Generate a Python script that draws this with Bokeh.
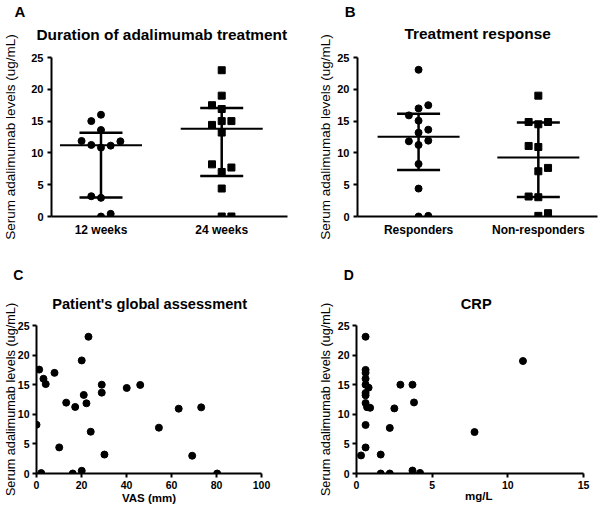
import numpy as np
from bokeh.plotting import figure
from bokeh.layouts import column, row
from bokeh.models import Range1d, FixedTicker, Title
from bokeh.embed import file_html
from bokeh.resources import INLINE

FONT = "Liberation Sans"

# ---------------- data ----------------
# Panel A: duration of adalimumab treatment (ug/mL)
weeks_labels = ["12 weeks", "24 weeks"]
weeks12 = [16.0, 15.0, 0.0, 0.42, 13.6, 10.83, 11.25, 11.14, 11.88, 11.82, 2.93, 3.19]
weeks24 = [23.0, 19.0, 16.9, 17.5, 15.0, 15.0, 13.2, 14.4, 7.0, 7.7, 8.2, 4.4, 0.0, 0.0]

# Panel B: treatment response (ug/mL)
response_labels = ["Responders", "Non-responders"]
responders = [11.25, 11.82, 23.07, 17.0, 17.5, 15.06, 15.9, 13.18, 13.65, 11.93, 0.0, 0.1, 8.26, 4.39]
non_responders = [19.0, 14.5, 14.86, 14.86, 10.93, 11.09, 7.11, 7.64, 3.03, 3.14, 0.1, 0.52]

# Panel C: patient's global assessment, VAS (mm) vs level
vas_mm = [23.1, 20.1, 1.2, 8.0, 3.1, 4.1, 29.0, 40.1, 46.1, 29.0, 21.0, 13.2, 17.2, 22.2,
          63.2, 73.2, 54.4, 69.2, 80.3, 0.0, 24.1, 10.1, 30.2, 2.1, 16.1, 20.1]
level_c = [23.1, 19.1, 17.55, 17.0, 16.0, 15.1, 15.0, 14.45, 14.96, 13.66, 13.27, 11.97, 11.24, 11.86,
           10.95, 11.17, 7.74, 3.0, 0.0, 8.24, 7.06, 4.41, 3.2, 0.07, 0.0, 0.46]

# Panel D: CRP (mg/L) vs level
crp_mgl = [0.6, 11.0, 0.6, 0.6, 0.6, 0.6, 0.8, 2.9, 3.7, 0.6, 0.6, 3.8, 0.6, 0.7,
           0.9, 2.5, 0.6, 2.2, 7.8, 0.6, 1.6, 0.3, 1.6, 2.2, 3.7, 4.2]
level_d = [23.1, 19.0, 17.5, 17.0, 16.0, 15.0, 14.5, 15.0, 15.0, 13.6, 13.2, 12.0, 11.9, 11.2,
           11.1, 11.0, 8.2, 7.7, 7.0, 4.4, 3.2, 3.05, 0.0, 0.0, 0.5, 0.1]

y_ticks = [0, 5, 10, 15, 20, 25]
vas_ticks = [0, 20, 40, 60, 80, 100]
crp_ticks = [0, 5, 10, 15]

Y_LABEL = "Serum adalimumab levels (ug/mL)"

# ---------------- helpers ----------------
W, H = 300, 255
EM_H = 1.117      # font box height / font size
CAP_C = 0.57      # box bottom -> visual cap centre / font size


class Panel:
    def __init__(self, ox, oy, frame, xr, yr=(0, 25)):
        fl, ft, fr, fb = frame
        self.oy = oy
        self.ml = int(round(fl - ox))
        self.mr = int(round(ox + W - fr))
        self.mt = int(round(ft - oy))
        self.mb = int(round(oy + H - fb))
        self.fl = ox + self.ml
        self.fr = ox + W - self.mr
        self.ft = oy + self.mt
        self.fb = oy + H - self.mb
        self.xr, self.yr = xr, yr
        p = figure(width=W, height=H, x_range=Range1d(*xr), y_range=Range1d(*yr),
                   output_backend="svg", toolbar_location=None, title=None,
                   min_border_left=self.ml, min_border_right=self.mr,
                   min_border_top=self.mt, min_border_bottom=self.mb)
        p.outline_line_color = None
        p.xgrid.visible = False
        p.ygrid.visible = False
        p.background_fill_color = "white"
        p.border_fill_color = "white"
        self.p = p

    def px_x(self):
        return (self.fr - self.fl) / (self.xr[1] - self.xr[0])

    def px_y(self):
        return (self.fb - self.ft) / (self.yr[1] - self.yr[0])

    def _title(self, text, size, left_x, standoff, bold=True, side="above"):
        t = Title(text=text, align="left", offset=left_x - self.fl, standoff=standoff,
                  vertical_align="bottom", text_font=FONT, text_font_size=f"{size}px",
                  text_font_style="bold" if bold else "normal", text_color="black")
        self.p.add_layout(t, side)

    def headings(self, title, tsize, t_left, t_cy, letter, lsize, l_left, l_cy):
        # letter panel (outermost), no standoff
        lh = 2 + EM_H * lsize
        lb = max(l_cy + CAP_C * lsize, self.oy + lh)
        # title panel directly below the letter panel
        th = 2 + EM_H * tsize
        s1 = max(0.0, 2 * (t_cy + CAP_C * tsize - lb - th))
        tb = lb + th + s1
        # spacer panel between title and frame
        sp_size = 1
        s_sp = (self.ft - tb) - (2 + EM_H * sp_size)
        self._title(" ", sp_size, self.fl, s_sp, bold=False)
        self._title(title, tsize, t_left, s1)
        self._title(letter, lsize, l_left, 0)

    def x_title_below(self, text, size, left_x, cy, axis_extent):
        # title panel stacked under the x axis panel
        top = self.fb + axis_extent
        th = 2 + EM_H * size
        # bottom-aligned text: box bottom = top + th + s/2
        s = 2 * (cy + CAP_C * size - top - th)
        self._title(text, size, left_x, s, side="below")


def style_axis(ax, size, tick_out=4, standoff=4):
    ax.axis_line_width = 2
    ax.axis_line_color = "black"
    ax.major_tick_line_width = 2
    ax.major_tick_line_color = "black"
    ax.major_tick_out = tick_out
    ax.major_tick_in = 0
    ax.minor_tick_out = 0
    ax.minor_tick_in = 0
    ax.major_label_standoff = standoff
    ax.major_label_text_font = FONT
    ax.major_label_text_font_style = "bold"
    ax.major_label_text_font_size = f"{size}px"
    ax.major_label_text_color = "black"


def axis_title(ax, text, size, standoff, bold=False):
    ax.axis_label = text
    ax.axis_label_text_font = FONT
    ax.axis_label_text_font_size = f"{size}px"
    ax.axis_label_text_font_style = "bold" if bold else "normal"
    ax.axis_label_text_color = "black"
    ax.axis_label_standoff = standoff


def swarm(values, center, step, thr):
    """Simple beeswarm: centre slot first, otherwise alternate sides."""
    slots = {}
    xs = []
    pref = -1
    for v in values:
        placed = None
        if all(abs(v - u) >= thr for u in slots.get(0, [])):
            placed = 0
        else:
            k = 1
            while placed is None:
                for s in (pref * k, -pref * k):
                    if all(abs(v - u) >= thr for u in slots.get(s, [])):
                        placed = s
                        break
                k += 1
            pref = -pref
        slots.setdefault(placed, []).append(v)
        xs.append(center + placed * step)
    return xs


def group_panel(pan, labels, groups, markers, ylab_standoff):
    p = pan.p
    cat_pos = [1, 2]
    step = 9.7 / pan.px_x()
    thr = 8.0 / pan.px_y()
    half_med = 41.0 / pan.px_x()
    half_q = 21.5 / pan.px_x()
    for cx, vals, mk in zip(cat_pos, groups, markers):
        xs = swarm(vals, cx, step, thr)
        q1, med, q3 = np.percentile(np.array(vals), [25, 50, 75], method="weibull")
        p.segment(x0=[cx], y0=[q1], x1=[cx], y1=[q3], line_width=2.5, line_color="black")
        p.segment(x0=[cx - half_med], y0=[med], x1=[cx + half_med], y1=[med],
                  line_width=2, line_color="black")
        p.segment(x0=[cx - half_q, cx - half_q], y0=[q1, q3], x1=[cx + half_q, cx + half_q],
                  y1=[q1, q3], line_width=2.5, line_color="black")
        p.scatter(x=xs, y=vals, marker=mk, size=7, fill_color="black", line_color="black")
    p.xaxis.ticker = FixedTicker(ticks=cat_pos)
    p.xaxis.major_label_overrides = {cx: lab for cx, lab in zip(cat_pos, labels)}
    style_axis(p.xaxis[0], 12, tick_out=0, standoff=6)
    p.yaxis.ticker = FixedTicker(ticks=y_ticks)
    style_axis(p.yaxis[0], 11, tick_out=4, standoff=4)
    axis_title(p.yaxis[0], Y_LABEL, 13.5, ylab_standoff)


def scatter_panel(pan, xv, yv, xticks, ylab_standoff):
    p = pan.p
    p.scatter(x=xv, y=yv, marker="circle", size=7, fill_color="black", line_color="black")
    p.xaxis.ticker = FixedTicker(ticks=xticks)
    style_axis(p.xaxis[0], 10.5, tick_out=4, standoff=3)
    p.yaxis.ticker = FixedTicker(ticks=y_ticks)
    style_axis(p.yaxis[0], 10.5, tick_out=4, standoff=3)
    axis_title(p.yaxis[0], Y_LABEL, 12.7, ylab_standoff)


# ---------------- panels ----------------
A = Panel(0, 0, (50.7, 56.7, 287.0, 216.0), (0.59, 2.545))
group_panel(A, weeks_labels, [weeks12, weeks24], ["circle", "square"], 10)
A.headings("Duration of adalimumab treatment", 15.4, 36.0, 33.0, "A", 15, 14.0, 9.3)

B = Panel(300, 0, (357.3, 56.7, 596.7, 216.0), (0.49, 2.494))
group_panel(B, response_labels, [responders, non_responders], ["circle", "square"], 1)
B.headings("Treatment response", 15.4, 404.0, 33.3, "B", 15, 344.3, 8.5)

C = Panel(0, 255, (36.0, 325.0, 261.0, 472.7), (0, 100))
scatter_panel(C, vas_mm, level_c, vas_ticks, -3)
axis_title(C.p.xaxis[0], "VAS (mm)", 11.5, 0, bold=True)
C.headings("Patient's global assessment", 14.6, 51.7, 303.3, "C", 14, 12.7, 273.3)

D = Panel(300, 255, (356.0, 325.0, 582.7, 472.7), (0, 15))
scatter_panel(D, crp_mgl, level_d, crp_ticks, 2)
D.x_title_below("mg/L", 11.5, 464.5, 496.5, 4 + 3 + EM_H * 10.5)
D.headings("CRP", 14.6, 460.3, 303.3, "D", 14, 343.3, 273.3)

layout = column(row(A.p, B.p), row(C.p, D.p))

open("out.html", "w").write(file_html(layout, INLINE))
